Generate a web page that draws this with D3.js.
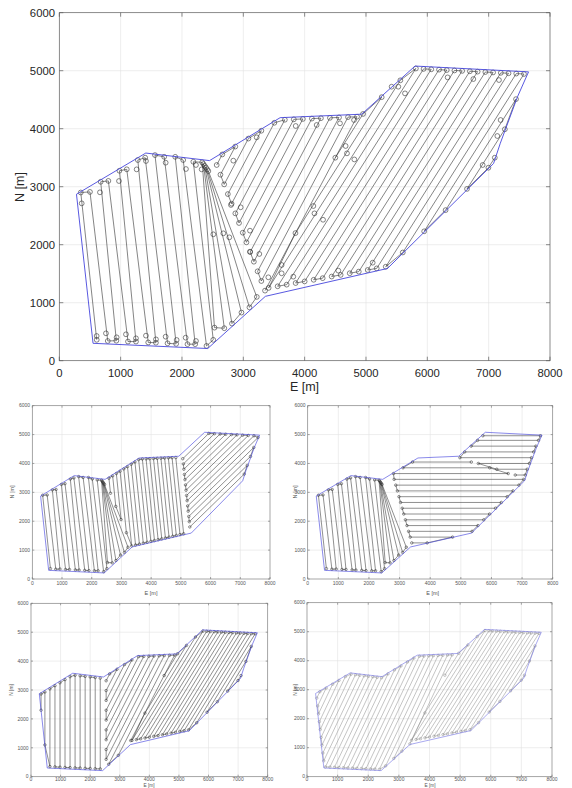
<!DOCTYPE html>
<html>
<head>
<meta charset="utf-8">
<script src="https://cdn.jsdelivr.net/npm/d3@7"></script>
<style>
  body { margin: 0; background: #fff; }
  svg { display: block; }
  text { font-family: "Liberation Sans", Arial, sans-serif; }
</style>
</head>
<body>
<svg id="fig" width="572" height="788"></svg>
<script>
// tick labels
const eTicks = [0, 1000, 2000, 3000, 4000, 5000, 6000, 7000, 8000];
const nTicks = [0, 1000, 2000, 3000, 4000, 5000, 6000];

// survey area outline [E, N]
const boundary = [
  [280, 2870], [1410, 3580], [2450, 3450], [3600, 4190], [4930, 4250],
  [5800, 5080], [7650, 4980], [7470, 4550], [7190, 3750], [7080, 3400],
  [5350, 1590], [3360, 1110], [2420, 210], [550, 300]
];

// flight passes [E1, N1, E2, N2], flown in order, direction alternating
// left block, near-N/S lines plus the fan at its right side
const passesA = [
  [610, 360, 350, 2900], [790, 340, 500, 2910], [930, 345, 675, 3085],
  [1120, 330, 800, 3100], [1250, 330, 980, 3275], [1450, 315, 1100, 3300],
  [1575, 310, 1280, 3460], [1765, 300, 1400, 3500], [1905, 290, 1560, 3545],
  [2090, 285, 1710, 3515], [2215, 285, 1890, 3515], [2400, 255, 2020, 3460],
  [2510, 360, 2185, 3430], [2530, 570, 2330, 3420], [2690, 560, 2350, 3390],
  [2815, 640, 2370, 3360], [2970, 830, 2390, 3330], [3100, 920, 2410, 3300],
  [3220, 1100, 2430, 3270]
];
// middle block, steep lines
const passesB = [
  [2566, 3374, 2657, 3556], [2627, 3207, 2869, 3692], [2688, 3040, 3083, 3830],
  [2748, 2873, 3294, 3965], [2809, 2707, 3506, 4102], [2870, 2540, 3677, 4154],
  [2930, 2374, 3823, 4161], [2991, 2207, 3971, 4168], [3051, 2041, 4118, 4174],
  [3112, 1874, 4265, 4181], [3172, 1707, 4412, 4187], [3233, 1541, 4560, 4194],
  [3294, 1374, 4707, 4200], [3354, 1208, 4854, 4207]
];
// right block, diagonal lines
const passesC = [
  [4500, 3500, 4952, 4254], [3850, 2200, 5256, 4544], [3413, 1255, 5560, 4834],
  [3560, 1283, 5813, 5038], [3707, 1311, 5939, 5031], [3853, 1339, 6064, 5024],
  [4000, 1367, 6191, 5018], [4147, 1395, 6317, 5011], [4294, 1423, 6442, 5004],
  [4441, 1451, 6568, 4997], [4587, 1479, 6694, 4990], [4735, 1508, 6820, 4984],
  [4882, 1536, 6946, 4977], [5028, 1564, 7072, 4970], [5175, 1592, 7198, 4963],
  [5322, 1620, 7324, 4956], [5600, 1866, 7450, 4950], [5949, 2231, 7576, 4943],
  [6298, 2596, 7446, 4510], [6647, 2962, 7264, 3990], [6996, 3327, 7100, 3500]
];
// extra waypoints of the large plot
const leadsMain = [
  [365, 2713], [663, 2903], [973, 3098], [1261, 3299], [1413, 3443], [1734, 3414],
  [2065, 3305], [2228, 3374], [2321, 3299], [609, 426], [761, 472], [935, 403],
  [1087, 455], [1250, 386], [1413, 432], [1576, 368], [1734, 414], [1913, 357],
  [2060, 397], [2228, 340], [2511, 2179], [2674, 2196], [2772, 2127],
  [2799, 2685], [2957, 2645], [3109, 2242], [3109, 1880], [3261, 1840], [3408, 1438],
  [2837, 3449], [3218, 3851], [3854, 4047], [4196, 4064], [4576, 4093], [4805, 4150],
  [4142, 2667], [4160, 2540], [4300, 2430], [4668, 3702], [4690, 3575], [4810, 3470],
  [5418, 4724], [5527, 4724], [5636, 4609], [6331, 4885], [6750, 4856], [7168, 4839],
  [7195, 4150], [7141, 3874], [6902, 3374], [3625, 1650], [3625, 1507], [3815, 1449],
  [4549, 1553], [5109, 1690]
];

// small plot, row 1 left
const passesB_bl1 = [
  [2631, 2969, 2579, 3490], [2810, 2514, 2704, 3571], [2988, 2058, 2829, 3651],
  [3167, 1603, 2954, 3732], [3345, 1147, 3079, 3812], [3475, 1179, 3204, 3892],
  [3605, 1210, 3329, 3973], [3735, 1241, 3454, 4053], [3865, 1272, 3579, 4134],
  [3990, 1303, 3704, 4155], [4112, 1332, 3829, 4160], [4235, 1362, 3954, 4166],
  [4357, 1391, 4079, 4171], [4480, 1421, 4204, 4177], [4602, 1450, 4329, 4183],
  [4725, 1479, 4454, 4188], [4847, 1509, 4579, 4194], [4970, 1539, 4704, 4200],
  [5093, 1568, 4829, 4205]
];
const passesC_bl1 = [
  [5064, 4164, 5941, 5041], [5083, 3983, 6130, 5030], [5101, 3801, 6320, 5020],
  [5119, 3619, 6510, 5010], [5138, 3438, 6700, 5000], [5156, 3256, 6890, 4990],
  [5174, 3074, 7079, 4979], [5192, 2892, 7269, 4969], [5211, 2711, 7459, 4959],
  [5229, 2529, 7598, 4898], [5247, 2347, 7454, 4554], [5266, 2166, 7343, 4243],
  [5284, 1984, 7235, 3935], [5302, 1802, 7132, 3632]
];

// small plot, row 1 right (E-W lines)
const passesB_br1 = [
  [3399, 1250, 3901, 1250], [3347, 1450, 4731, 1450], [3294, 1650, 5367, 1650],
  [3242, 1850, 5559, 1850], [3190, 2050, 5750, 2050], [3137, 2250, 5941, 2250],
  [3085, 2450, 6132, 2450], [3033, 2650, 6323, 2650], [2980, 2850, 6514, 2850],
  [2928, 3050, 6705, 3050], [2876, 3250, 6897, 3250], [2823, 3450, 7056, 3450],
  [2801, 3650, 6547, 3650], [3112, 3850, 5944, 3850], [3423, 4050, 5342, 4050]
];
const passesC_br1 = [
  [6777, 3600, 7103, 3600], [6175, 3800, 7167, 3800], [5572, 4000, 7238, 4000],
  [4970, 4200, 7308, 4200], [5127, 4400, 7378, 4400], [5337, 4600, 7451, 4600],
  [5547, 4800, 7535, 4800], [5720, 4960, 7600, 4960]
];

// small plot, row 2 left
const passesA_bl2 = [
  [340, 2300, 340, 2860], [470, 1100, 470, 2930], [640, 350, 640, 3040],
  [810, 340, 810, 3150], [980, 330, 980, 3250], [1150, 320, 1150, 3360],
  [1320, 315, 1320, 3460], [1490, 305, 1490, 3510], [1660, 300, 1660, 3490],
  [1830, 290, 1830, 3470], [2000, 285, 2000, 3450], [2170, 275, 2170, 3430],
  [2340, 270, 2340, 3410]
];
const passesB_bl2 = [
  [2540, 3320, 2658, 3557], [2540, 2980, 2909, 3718], [2540, 2640, 3160, 3879],
  [2540, 2300, 3410, 4040], [2540, 1960, 3636, 4153], [2540, 1620, 3810, 4160],
  [2540, 1280, 3984, 4168], [2540, 940, 4158, 4176], [2540, 600, 4332, 4184],
  [2625, 430, 4506, 4192], [2950, 740, 4680, 4199], [3370, 1250, 4854, 4207]
];

// small plot, row 2 right (left part)
const passesL_br2 = [
  [319, 2709, 418, 2928], [348, 2439, 627, 3059], [376, 2169, 836, 3190],
  [404, 1898, 1045, 3322], [433, 1628, 1254, 3453], [461, 1358, 1440, 3534],
  [489, 1088, 1582, 3516], [518, 817, 1724, 3498], [546, 547, 1866, 3481],
  [602, 338, 2008, 3463], [749, 331, 2150, 3445], [896, 324, 2292, 3427],
  [1043, 317, 2435, 3412], [1190, 310, 2647, 3548], [1336, 303, 2858, 3684],
  [1483, 296, 3069, 3819], [1630, 289, 3280, 3955], [1777, 282, 3491, 4091],
  [1924, 275, 3669, 4154], [2071, 268, 3822, 4161], [2217, 261, 3976, 4168],
  [2364, 254, 4129, 4175], [2569, 375, 4282, 4182], [2832, 627, 4435, 4188],
  [3096, 880, 4588, 4195], [3359, 1132, 4741, 4202]
];

const big = { fs: 11.3, lfs: 12.5, r: 2.4, lw: 0.6, ink: "#333", frame: "#5a5a5a", grid: "#e2e2e2", blue: "#4646dc", tick: 4, txt: "#262626", bw: 0.9 };
const small = { fs: 5, lfs: 5.5, r: 1.25, lw: 0.55, ink: "#333", frame: "#808080", grid: "#e2e2e2", blue: "#4a4ade", tick: 2, txt: "#555", bw: 0.65 };

const panels = [
  Object.assign({}, big, { left: 59.3, right: 550, top: 12.7, bottom: 360.7,
    yTickX: 55, xTickY: 377, xlab: [304.5, 391], ylab: [24, 187],
    groups: [passesA, passesB, passesC], leads: leadsMain }),
  Object.assign({}, small, { left: 32.3, right: 270, top: 405.7, bottom: 579,
    yTickX: 30, xTickY: 584.5, xlab: [151, 595], ylab: [14, 492],
    groups: [passesA, passesB_bl1, passesC_bl1], leads: [] }),
  Object.assign({}, small, { left: 307.7, right: 552.7, top: 405.7, bottom: 579,
    yTickX: 305.5, xTickY: 584.5, xlab: [432.7, 595], ylab: [297, 492],
    groups: [passesA, passesB_br1, passesC_br1], leads: [] }),
  Object.assign({}, small, { left: 31, right: 267.7, top: 603.3, bottom: 776.7,
    yTickX: 28.5, xTickY: 781, xlab: [149, 787], ylab: [13, 690], lfs: 4.8,
    groups: [passesA_bl2, passesB_bl2, passesC], leads: [] }),
  Object.assign({}, small, { left: 307, right: 552, top: 602.7, bottom: 776.7,
    yTickX: 305, xTickY: 781, xlab: [430, 787], ylab: [297, 690], lfs: 4.8,
    ink: "#8a8a8a", blue: "#7c7ce6", lw: 0.5,
    groups: [passesL_br2, passesC], leads: [] })
];

const svg = d3.select("#fig");

function vertices(passes) {
  const v = [];
  passes.forEach((p, i) => {
    if (i % 2 === 0) v.push([p[0], p[1]], [p[2], p[3]]);
    else v.push([p[2], p[3]], [p[0], p[1]]);
  });
  return v;
}

panels.forEach(p => {
  const x = d3.scaleLinear().domain([0, 8000]).range([p.left, p.right]);
  const y = d3.scaleLinear().domain([0, 6000]).range([p.bottom, p.top]);
  const g = svg.append("g");
  const line = d3.line().x(d => x(d[0])).y(d => y(d[1]));

  // grid
  g.selectAll(".gx").data(eTicks.slice(1, -1)).enter().append("line")
    .attr("x1", d => x(d)).attr("x2", d => x(d))
    .attr("y1", p.top).attr("y2", p.bottom)
    .attr("stroke", p.grid).attr("stroke-width", 0.6);
  g.selectAll(".gy").data(nTicks.slice(1, -1)).enter().append("line")
    .attr("y1", d => y(d)).attr("y2", d => y(d))
    .attr("x1", p.left).attr("x2", p.right)
    .attr("stroke", p.grid).attr("stroke-width", 0.6);

  // flight paths
  p.groups.forEach(passes => {
    const v = vertices(passes);
    g.append("path").attr("d", line(v))
      .attr("fill", "none").attr("stroke", p.ink).attr("stroke-width", p.lw);
    g.selectAll(null).data(v).enter().append("circle")
      .attr("cx", d => x(d[0])).attr("cy", d => y(d[1])).attr("r", p.r)
      .attr("fill", "none").attr("stroke", p.ink).attr("stroke-width", p.lw);
  });
  g.selectAll(null).data(p.leads).enter().append("circle")
    .attr("cx", d => x(d[0])).attr("cy", d => y(d[1])).attr("r", p.r)
    .attr("fill", "none").attr("stroke", p.ink).attr("stroke-width", p.lw);

  // outline
  g.append("path").attr("d", line(boundary.concat([boundary[0]])))
    .attr("fill", "none").attr("stroke", p.blue).attr("stroke-width", p.bw);

  // axes box with inward ticks
  const ax = g.append("g").attr("stroke", p.frame).attr("stroke-width", 0.7);
  ax.append("rect").attr("x", p.left).attr("y", p.top)
    .attr("width", p.right - p.left).attr("height", p.bottom - p.top).attr("fill", "none");
  eTicks.forEach(t => {
    ax.append("line").attr("x1", x(t)).attr("x2", x(t)).attr("y1", p.bottom).attr("y2", p.bottom - p.tick);
    ax.append("line").attr("x1", x(t)).attr("x2", x(t)).attr("y1", p.top).attr("y2", p.top + p.tick);
  });
  nTicks.forEach(t => {
    ax.append("line").attr("y1", y(t)).attr("y2", y(t)).attr("x1", p.left).attr("x2", p.left + p.tick);
    ax.append("line").attr("y1", y(t)).attr("y2", y(t)).attr("x1", p.right).attr("x2", p.right - p.tick);
  });

  // tick labels
  g.selectAll(null).data(eTicks).enter().append("text")
    .attr("x", d => x(d)).attr("y", p.xTickY).attr("text-anchor", "middle")
    .attr("font-size", p.fs).attr("fill", p.txt).text(d => d);
  g.selectAll(null).data(nTicks).enter().append("text")
    .attr("x", p.yTickX).attr("y", d => y(d)).attr("dy", "0.35em").attr("text-anchor", "end")
    .attr("font-size", p.fs).attr("fill", p.txt).text(d => d);

  // axis labels
  g.append("text").attr("x", p.xlab[0]).attr("y", p.xlab[1]).attr("text-anchor", "middle")
    .attr("font-size", p.lfs).attr("fill", p.txt).text("E [m]");
  g.append("text").attr("transform", `translate(${p.ylab[0]},${p.ylab[1]}) rotate(-90)`)
    .attr("text-anchor", "middle").attr("font-size", p.lfs).attr("fill", p.txt).text("N [m]");
});
</script>
</body>
</html>
